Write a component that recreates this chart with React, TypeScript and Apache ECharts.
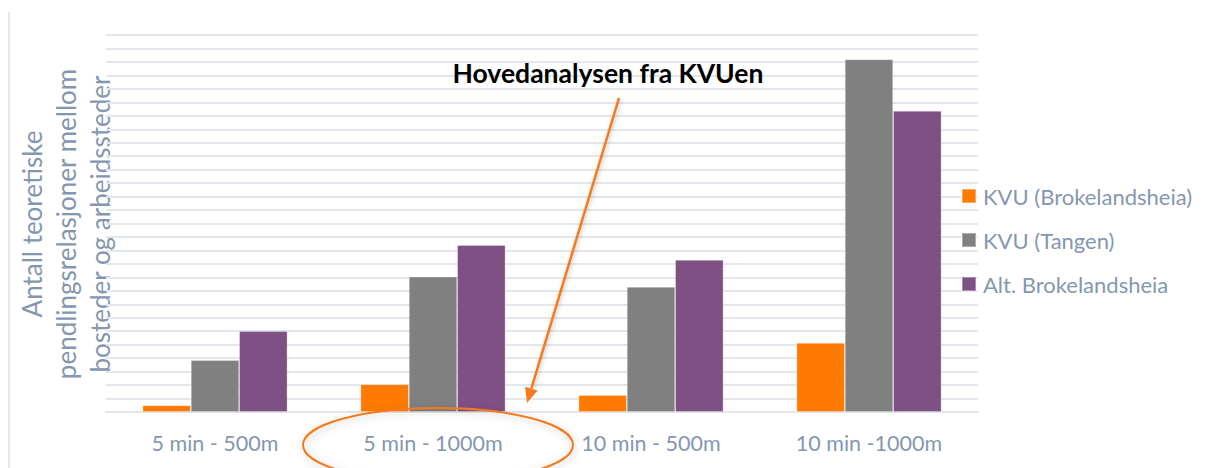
import React, { useEffect, useRef } from "react";
import * as echarts from "echarts";

const categories = ["5 min - 500m", "5 min - 1000m", "10 min - 500m", "10 min -1000m"];
const seriesNames = ["KVU (Brokelandsheia)", "KVU (Tangen)", "Alt. Brokelandsheia"];
const kvuBrokelandsheia = [0.5, 2.06, 1.26, 5.13];
const kvuTangen = [3.86, 10.05, 9.29, 26.2];
const altBrokelandsheia = [6.0, 12.4, 11.3, 22.36];
const yAxisTitle = "Antall teoretiske\npendlingsrelasjoner mellom\nbosteder og arbeidssteder";
const annotation = "Hovedanalysen fra KVUen";

const colors = ["#FF7A00", "#808080", "#7F5084"];
const textColor = "#8497B0";
const gridColor = "#E3E6EB";
const FONT = "Lato, 'Open Sans', sans-serif";

export default function App() {
  const ref = useRef<HTMLDivElement>(null);
  useEffect(() => {
    if (!ref.current) return;
    const chart = echarts.init(ref.current, null, { renderer: "svg" });
    const values = [kvuBrokelandsheia, kvuTangen, altBrokelandsheia];
    // arrow geometry
    const sx = 619, sy = 98, tx = 527, ty = 403;
    const dx = tx - sx, dy = ty - sy;
    const len = Math.sqrt(dx * dx + dy * dy);
    const ux = dx / len, uy = dy / len;
    const hl = 15, hw = 6.5;
    const bx = tx - ux * hl, by = ty - uy * hl;
    const px = -uy, py = ux;
    chart.setOption({
      animation: false,
      backgroundColor: "#ffffff",
      textStyle: { fontFamily: FONT },
      grid: { left: 106, right: 228, top: 35, bottom: 56, containLabel: false },
      legend: {
        orient: "vertical",
        left: 956,
        top: 180,
        itemWidth: 14,
        itemHeight: 14,
        itemGap: 22,
        icon: "rect",
        textStyle: { color: textColor, fontSize: 22, fontFamily: FONT, padding: [0, 0, 0, 2] },
        data: seriesNames,
      },
      xAxis: {
        type: "category",
        data: categories,
        axisLine: { show: true, lineStyle: { color: gridColor, width: 2 } },
        axisTick: { show: false },
        axisLabel: { color: textColor, fontSize: 21.5, margin: 20, fontFamily: FONT },
      },
      yAxis: {
        type: "value",
        min: 0,
        max: 28,
        interval: 1,
        axisLabel: { show: false },
        axisLine: { show: false },
        axisTick: { show: false },
        splitLine: { show: true, lineStyle: { color: gridColor, width: 2 } },
      },
      series: seriesNames.map((name, i) => ({
        name,
        type: "bar",
        data: values[i],
        barGap: "0%",
        barCategoryGap: "33.5%",
        itemStyle: { color: colors[i], borderColor: "rgba(255,255,255,0.35)", borderWidth: 0.8 },
      })),
      graphic: [
        {
          type: "line",
          shape: { x1: 9, y1: 12, x2: 9, y2: 468 },
          style: { stroke: "#DDE1E7", lineWidth: 1.5 },
        },
        {
          type: "text",
          x: 66,
          y: 224,
          rotation: Math.PI / 2,
          style: {
            text: yAxisTitle,
            fill: textColor,
            fontSize: 26,
            fontFamily: FONT,
            lineHeight: 34,
            align: "center",
            verticalAlign: "middle",
          },
        },
        {
          type: "text",
          x: 608,
          y: 73,
          z: 100,
          style: {
            text: annotation,
            fill: "#000000",
            fontSize: 26.5,
            fontWeight: "bold",
            fontFamily: FONT,
            align: "center",
            verticalAlign: "middle",
          },
        },
        {
          type: "line",
          z: 100,
          shape: { x1: sx, y1: sy, x2: bx, y2: by },
          style: { stroke: "#F57A1F", lineWidth: 2.5, shadowBlur: 4, shadowColor: "rgba(0,0,0,0.25)", shadowOffsetX: 1, shadowOffsetY: 1 },
        },
        {
          type: "polygon",
          z: 100,
          shape: { points: [[tx, ty], [bx + px * hw, by + py * hw], [bx - px * hw, by - py * hw]] },
          style: { fill: "#F57A1F" },
        },
        {
          type: "ellipse",
          z: 100,
          shape: { cx: 438, cy: 445, rx: 135, ry: 37 },
          style: { fill: "none", stroke: "#F57A1F", lineWidth: 2, shadowBlur: 8, shadowColor: "rgba(0,0,0,0.25)", shadowOffsetX: 1, shadowOffsetY: 2 },
        },
      ],
    });
    return () => chart.dispose();
  }, []);
  return (
    <div
      ref={ref}
      style={{ position: "fixed", left: 0, top: 0, width: 1206, height: 468, background: "#fff" }}
    />
  );
}
